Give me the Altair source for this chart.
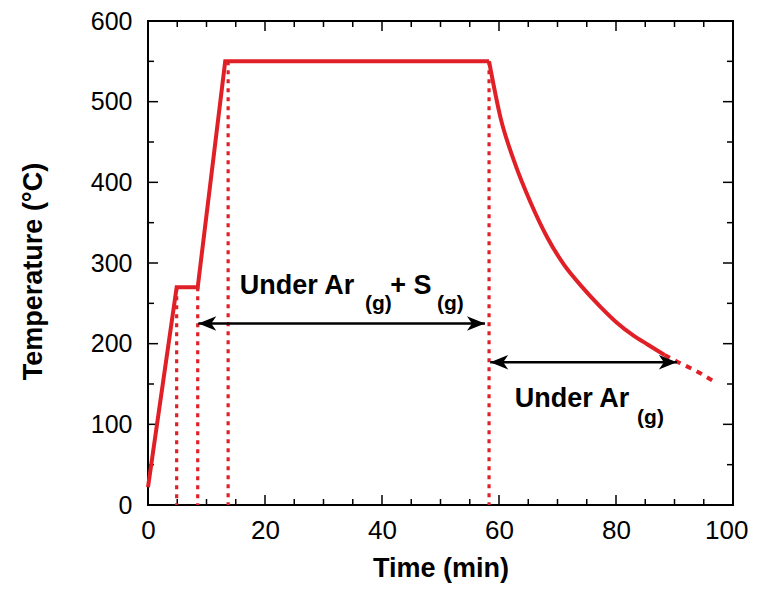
import altair as alt
import pandas as pd

# ---- data ----
ramp_time = [0, 4.9, 8.5, 13.2, 58.3]
ramp_temp = [22, 270, 270, 550, 550]
cool_time = [58.3, 60.3, 62.6, 65.4, 68.3, 71.1, 74.0, 77.3, 80.0, 83.0, 85.4, 88.3]
cool_temp = [550, 479, 426, 375, 331, 298, 272, 246, 227, 210, 199, 186]
tail_time = [88.3, 90.4, 94.0, 97.2]
tail_temp = [186, 178, 165, 151]

marker_time = [4.9, 8.5, 13.7, 58.3]
marker_top = [270, 270, 550, 550]

arrow_start = [8.6, 58.5]
arrow_end = [57.6, 90.4]
arrow_temp = [225, 177]

label_text = ["Under Ar", "+ S", "Under Ar"]
label_time = [15.7, 41.4, 62.7]
label_temp = [262, 262, 121]
sub_text = ["(g)", "(g)", "(g)"]
sub_time = [37.1, 49.4, 83.6]
sub_temp = [242, 242, 101]

x_labels = [0, 20, 40, 60, 80, 100]
y_labels = [0, 100, 200, 300, 400, 500, 600]
x_major = [20, 40, 60, 80]
x_minor = [5, 10, 15, 25, 30, 35, 45, 50, 55, 65, 70, 75, 85, 90, 95]
y_major = [100, 200, 300, 400, 500]
y_minor = [50, 150, 250, 350, 450, 550]

# ---- styling ----
W, H = 585, 484
RED = "#e01f27"
FONT = "Liberation Sans"

xs = alt.Scale(domain=[0, 100], nice=False, zero=False)
ys = alt.Scale(domain=[0, 600], nice=False, zero=False)
x_axis = alt.Axis(values=x_labels, ticks=False, domain=False, grid=False, labelFlush=False,
                  labelAlign={"condition": {"test": "datum.value == 100", "value": "right"},
                              "value": "center"},
                  labelOffset={"condition": {"test": "datum.value == 100", "value": 15},
                               "value": 0},
                  labelFontSize=26, labelPadding=12, labelFont=FONT, labelColor="black",
                  title="Time (min)", titleFont=FONT, titleFontSize=27, titleFontWeight="bold",
                  titleColor="black", titleX=W / 2, titleY=71, titleBaseline="alphabetic",
                  titleAlign="center")
y_axis = alt.Axis(values=y_labels, ticks=False, domain=False, grid=False, labelFlush=False,
                  labelFontSize=25, labelPadding=16, labelFont=FONT, labelColor="black",
                  title="Temperature (°C)", titleFont=FONT, titleFontSize=27,
                  titleFontWeight="bold", titleColor="black", titleX=-115, titleY=250,
                  titleBaseline="middle", titleAlign="center", titleAngle=270)

X = lambda f="t": alt.X(f"{f}:Q", scale=xs, axis=x_axis)
Y = lambda f="T": alt.Y(f"{f}:Q", scale=ys, axis=y_axis)

ramp = pd.DataFrame({"t": ramp_time, "T": ramp_temp, "o": range(len(ramp_time))})
cool = pd.DataFrame({"t": cool_time, "T": cool_temp, "o": range(len(cool_time))})
tail = pd.DataFrame({"t": tail_time, "T": tail_temp, "o": range(len(tail_time))})
markers = pd.DataFrame({"t": marker_time, "T": marker_top})
arrows = pd.DataFrame({"t": arrow_start, "t2": arrow_end, "T": arrow_temp})
labels = pd.DataFrame({"t": label_time, "T": label_temp, "s": label_text})
subs = pd.DataFrame({"t": sub_time, "T": sub_temp, "s": sub_text})

ramp_line = alt.Chart(ramp).mark_line(color=RED, strokeWidth=4, strokeJoin="miter").encode(
    x=X(), y=Y(), order="o:O")
cool_line = alt.Chart(cool).mark_line(color=RED, strokeWidth=4, interpolate="monotone").encode(
    x=X(), y=Y(), order="o:O")
dashed = alt.Chart(tail).mark_line(color=RED, strokeWidth=4, strokeDash=[6, 6],
                                   interpolate="monotone").encode(x=X(), y=Y(), order="o:O")
dotted = alt.Chart(markers).mark_rule(color=RED, strokeWidth=3.2, strokeDash=[4, 5]).encode(
    x=X(), y=Y(), y2=alt.Y2(datum=0))
arrow_lines = alt.Chart(arrows).mark_rule(color="black", strokeWidth=2.5).encode(
    x=X(), x2="t2:Q", y=Y())
head_r = alt.Chart(arrows).mark_point(
    shape="M0,0L-1,-0.4L-0.72,0L-1,0.4Z", size=1296, filled=True, color="black",
    opacity=1, strokeWidth=0).encode(x=X("t2"), y=Y())
head_l = alt.Chart(arrows).mark_point(
    shape="M0,0L1,-0.4L0.72,0L1,0.4Z", size=1296, filled=True, color="black",
    opacity=1, strokeWidth=0).encode(x=X(), y=Y())
main_text = alt.Chart(labels).mark_text(
    font=FONT, fontSize=27, fontWeight="bold", align="left", baseline="alphabetic",
    color="black").encode(x=X(), y=Y(), text="s:N")
sub_txt = alt.Chart(subs).mark_text(
    font=FONT, fontSize=21, fontWeight="bold", align="left", baseline="alphabetic",
    color="black").encode(x=X(), y=Y(), text="s:N")

def xticks(vals, length):
    d = pd.DataFrame({"t": vals})
    b = alt.Chart(d).mark_rule(color="black", strokeWidth=1.5).encode(
        x=X(), y=alt.value(H), y2=alt.value(H - length))
    tp = alt.Chart(d).mark_rule(color="black", strokeWidth=1.5).encode(
        x=X(), y=alt.value(0), y2=alt.value(length))
    return [b, tp]

def yticks(vals, length):
    d = pd.DataFrame({"T": vals})
    lft = alt.Chart(d).mark_rule(color="black", strokeWidth=1.5).encode(
        y=Y(), x=alt.value(0), x2=alt.value(length))
    rgt = alt.Chart(d).mark_rule(color="black", strokeWidth=1.5).encode(
        y=Y(), x=alt.value(W), x2=alt.value(W - length))
    return [lft, rgt]

tick_layers = xticks(x_major, 10) + xticks(x_minor, 6) + yticks(y_major, 10) + yticks(y_minor, 6)

chart = alt.layer(
    *tick_layers, dotted, ramp_line, cool_line, dashed, arrow_lines, head_r, head_l,
    main_text, sub_txt
).properties(
    width=W, height=H,
    autosize=alt.AutoSizeParams(type="none"),
    padding={"left": 140, "top": 13, "right": 17, "bottom": 78},
    background="white",
).configure_view(stroke="black", strokeWidth=2)

chart.save("out.html", embed_options={"renderer": "svg", "actions": False})
